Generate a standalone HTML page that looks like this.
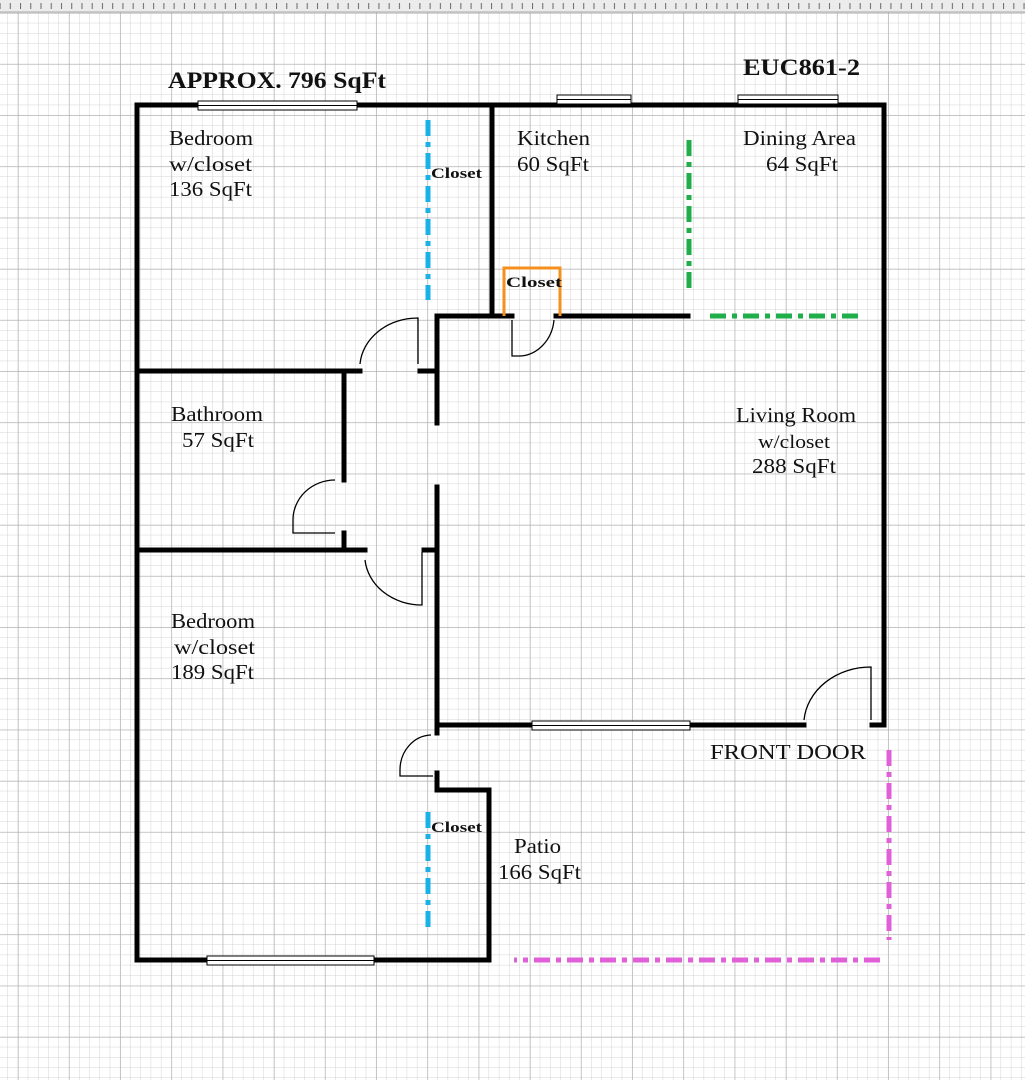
<!DOCTYPE html>
<html><head><meta charset="utf-8"><style>
html,body{margin:0;padding:0;background:#fff}
svg{display:block}
text{font-family:"Liberation Serif",serif;fill:#111}
</style></head><body>
<svg width="1025" height="1080" viewBox="0 0 1025 1080" xmlns="http://www.w3.org/2000/svg">
<defs>
<pattern id="minor" width="10.24" height="10.24" patternUnits="userSpaceOnUse" x="7.8" y="2.8">
<path d="M10.24 0V10.24M0 10.24H10.24" stroke="#d4d4d4" stroke-width="1" fill="none"/>
</pattern>
<pattern id="major" width="51.2" height="51.2" patternUnits="userSpaceOnUse" x="18" y="13">
<path d="M0 0V51.2M0 0H51.2" stroke="#ababab" stroke-width="1" fill="none"/>
</pattern>
<pattern id="ruler" width="10.24" height="12" patternUnits="userSpaceOnUse" x="7.8">
<path d="M2.5 3V9" stroke="#666" stroke-width="1"/>
</pattern>
</defs>
<rect width="1025" height="1080" fill="#fff"/>
<rect width="1025" height="1080" fill="url(#minor)"/>
<rect width="1025" height="1080" fill="url(#major)"/>
<rect width="1025" height="12" fill="#ececec"/>
<rect width="1025" height="12" fill="url(#ruler)"/>
<line x1="0" y1="12" x2="1025" y2="12" stroke="#aaa"/>

<g stroke="#000" stroke-width="5" fill="none" stroke-linecap="square">
<path d="M137 105H884M137 105V960H489V790H437"/>
<path d="M884 105V725"/>
<path d="M437 725H804M872 725H884"/>
<path d="M437 316V423M437 487V733M437 773V790"/>
<path d="M437 316H512M556 316H688"/>
<path d="M492 105V316"/>
<path d="M137 371H360M420 371H437"/>
<path d="M344 371V480M344 533V550"/>
<path d="M137 550H365M424 550H437"/>
</g>
<g fill="#fff" stroke="#000" stroke-width="1">
<rect x="198" y="101" width="159" height="9"/><line x1="198" y1="105.5" x2="357" y2="105.5"/>
<rect x="557" y="95" width="74" height="9"/><line x1="557" y1="99.5" x2="631" y2="99.5"/>
<rect x="738" y="95" width="100" height="9"/><line x1="738" y1="99.5" x2="838" y2="99.5"/>
<rect x="207" y="956" width="167" height="9"/><line x1="207" y1="960.5" x2="374" y2="960.5"/>
<rect x="532" y="721" width="158" height="9"/><line x1="532" y1="725.5" x2="690" y2="725.5"/>
</g>
<g stroke="#000" stroke-width="1.3" fill="none">
<path d="M418 364V318A58 50 0 0 0 360 364"/>
<path d="M512 320V356H520A36 40 0 0 0 554 320"/>
<path d="M335 533H293V520A42 40 0 0 1 335 480"/>
<path d="M422 552V605A57 50 0 0 1 365 560"/>
<path d="M433 776H400V770A32 35 0 0 1 431 735"/>
<path d="M871 720V667A67 58 0 0 0 804 720"/>
</g>
<g fill="none" stroke-width="5" stroke-dasharray="16 6 5 6">
<path d="M428 120V300M428 812V930" stroke="#1ab2e6"/>
<path d="M689 140V290M710 316H858" stroke="#1fae4a"/>
<path d="M889 750V940M880 960H514" stroke="#e060d8"/>
</g>
<path d="M504 316V268H560V316" fill="none" stroke="#f5901e" stroke-width="3"/>

<g lengthAdjust="spacingAndGlyphs">
<text x="168" y="88" font-size="23" font-weight="bold" textLength="218" lengthAdjust="spacingAndGlyphs">APPROX. 796 SqFt</text>
<text x="743" y="75" font-size="23" font-weight="bold" textLength="117" lengthAdjust="spacingAndGlyphs">EUC861-2</text>
</g>
<g font-size="21">
<text x="169" y="145" textLength="84" lengthAdjust="spacingAndGlyphs">Bedroom</text>
<text x="169" y="171" textLength="83" lengthAdjust="spacingAndGlyphs">w/closet</text>
<text x="169" y="196" textLength="83" lengthAdjust="spacingAndGlyphs">136 SqFt</text>
<text x="517" y="145" textLength="73" lengthAdjust="spacingAndGlyphs">Kitchen</text>
<text x="517" y="171" textLength="72" lengthAdjust="spacingAndGlyphs">60 SqFt</text>
<text x="743" y="145" textLength="113" lengthAdjust="spacingAndGlyphs">Dining Area</text>
<text x="766" y="171" textLength="72" lengthAdjust="spacingAndGlyphs">64 SqFt</text>
<text x="171" y="421" textLength="92" lengthAdjust="spacingAndGlyphs">Bathroom</text>
<text x="182" y="447" textLength="72" lengthAdjust="spacingAndGlyphs">57 SqFt</text>
<text x="736" y="422" textLength="120" lengthAdjust="spacingAndGlyphs">Living Room</text>
<text x="758" y="448" font-size="19" textLength="72" lengthAdjust="spacingAndGlyphs">w/closet</text>
<text x="752" y="473" textLength="84" lengthAdjust="spacingAndGlyphs">288 SqFt</text>
<text x="171" y="628" textLength="84" lengthAdjust="spacingAndGlyphs">Bedroom</text>
<text x="174" y="654" textLength="81" lengthAdjust="spacingAndGlyphs">w/closet</text>
<text x="171" y="679" textLength="83" lengthAdjust="spacingAndGlyphs">189 SqFt</text>
<text x="710" y="759" textLength="156" lengthAdjust="spacingAndGlyphs">FRONT DOOR</text>
<text x="514" y="853" textLength="47" lengthAdjust="spacingAndGlyphs">Patio</text>
<text x="498" y="879" textLength="83" lengthAdjust="spacingAndGlyphs">166 SqFt</text>
</g>
<g font-size="15" font-weight="bold">
<text x="431" y="178" textLength="51" lengthAdjust="spacingAndGlyphs">Closet</text>
<text x="506" y="287" textLength="56" lengthAdjust="spacingAndGlyphs">Closet</text>
<text x="431" y="832" textLength="51" lengthAdjust="spacingAndGlyphs">Closet</text>
</g>
</svg>
</body></html>
